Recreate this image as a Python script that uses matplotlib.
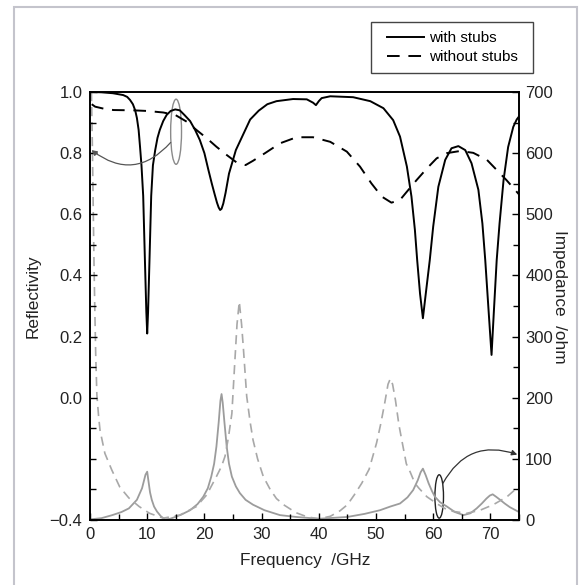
import matplotlib
matplotlib.use('Agg')
import matplotlib.pyplot
import matplotlib.patches
import matplotlib.ticker


freq_with = [0, 2, 4, 5.8, 6.5, 7.0, 7.5, 7.9, 8.2, 8.5, 8.75, 9.0, 9.3, 9.6, 9.85, 10.0,
             10.15, 10.4, 10.7, 11.0, 11.4, 11.8, 12.2, 12.8, 13.4, 14.1, 14.9, 15.7, 16.5,
             17.5, 18.4, 19.2, 20.0, 20.7, 21.3, 21.8, 22.2, 22.5, 22.75, 23.0, 23.3, 23.7,
             24.3, 25.5, 26.9, 28.0, 29.5, 31, 32.6, 35.5, 37.9, 39.0, 39.5, 40.0, 40.5, 42,
             46, 49, 51.3, 53, 54.2, 55.4, 56.2, 56.8, 57.2, 57.7, 58.2, 58.7, 59.4, 60, 60.9,
             62.1, 63.2, 64.4, 65.6, 66.7, 67.9, 68.6, 69.1, 69.7, 70.2, 70.6, 71.1, 71.6,
             72.3, 73.1, 74.0, 74.6, 75]
refl_with = [1.0, 0.999, 0.996, 0.99, 0.984, 0.974, 0.96, 0.94, 0.915, 0.876, 0.82, 0.76,
             0.66, 0.45, 0.28, 0.21, 0.28, 0.45, 0.66, 0.76, 0.81, 0.85, 0.876, 0.905, 0.925,
             0.938, 0.943, 0.94, 0.925, 0.905, 0.875, 0.843, 0.80, 0.745, 0.70, 0.665, 0.638,
             0.622, 0.614, 0.618, 0.635, 0.67, 0.733, 0.81, 0.866, 0.91, 0.939, 0.96, 0.97,
             0.977, 0.976, 0.965, 0.957, 0.97, 0.98, 0.986, 0.983, 0.97, 0.947, 0.908, 0.854,
             0.756, 0.658, 0.549, 0.45, 0.34, 0.26, 0.34, 0.45, 0.56, 0.69, 0.778, 0.816,
             0.823, 0.81, 0.767, 0.68, 0.57, 0.45, 0.28, 0.14, 0.28, 0.45, 0.57, 0.712, 0.82,
             0.886, 0.91, 0.92]

freq_without = [0.3, 0.9, 2.5, 4.1, 7.6, 10, 12.8, 14.9, 16.9, 18.6, 20.4, 22.1, 23.9, 25.6,
                27.2, 28.5, 30.6, 33.2, 36.1, 39, 42, 44.9, 47.2, 49.2, 51, 52.7, 54.2, 55.4,
                57.1, 58.9, 60.6, 62.4, 64.7, 67, 69.4, 71.1, 72.8, 74.3, 75]
refl_without = [0.96, 0.952, 0.945, 0.941, 0.94, 0.938, 0.933, 0.925, 0.903, 0.876, 0.849,
                0.821, 0.794, 0.77, 0.761, 0.775, 0.80, 0.832, 0.852, 0.852, 0.837, 0.805,
                0.756, 0.701, 0.658, 0.638, 0.647, 0.674, 0.712, 0.75, 0.783, 0.8, 0.807,
                0.801, 0.778, 0.745, 0.712, 0.68, 0.665]

freq_z_with = [0, 2, 3.9, 5.5, 6.8, 8.2, 9.1, 9.7, 10.0, 10.2, 10.5, 10.8, 11.2, 11.7, 12.4,
               13.1, 14, 14.9, 16, 17.5, 18.8, 19.8, 20.6, 21.2, 21.7, 22.1, 22.5, 22.8, 23.0,
               23.2, 23.5, 23.9, 24.3, 24.8, 25.5, 26.2, 27.2, 28.5, 30.5, 33.2, 36, 40, 45,
               48, 50.7, 52.5, 54.2, 55.5, 56.5, 57.3, 57.8, 58.2, 58.7, 59.2, 59.8, 60.3,
               61.2, 62.4, 63.8, 65.3, 66.5, 67.6, 68.5, 69.3, 69.9, 70.4, 71.0, 71.7, 72.5,
               73.4, 74.2, 75]
imp_with = [1, 3, 8, 13, 19, 33, 52, 74, 79, 65, 45, 33, 22, 14, 6, 1, 2, 5, 9, 16, 26, 38,
            52, 71, 92, 120, 160, 195, 206, 192, 160, 120, 92, 71, 55, 44, 33, 25, 16, 8, 5,
            2, 5, 10, 16, 22, 27, 37, 49, 65, 78, 84, 73, 60, 47, 38, 29, 22, 13, 8, 11, 19,
            27, 35, 40, 42, 38, 33, 27, 21, 17, 13]

freq_z_without = [0.25, 0.4, 0.55, 0.7, 0.85, 1.0, 1.2, 1.5, 1.75, 2.6, 3.8, 5.2, 6.8, 8.6,
                  10.4, 12.8, 15.7, 18.6, 20.4, 22.1, 23.0, 23.6, 24.2, 24.8, 25.3, 25.7,
                  26.1, 26.5, 26.8, 27.4, 28.0, 28.5, 29.3, 30.3, 31.5, 32.6, 34, 36, 38, 40,
                  42, 43.7, 45, 46.2, 47.5, 48.8, 50.1, 50.8, 51.5, 52.1, 52.5, 52.9, 53.4,
                  54, 54.5, 55.3, 56, 56.8, 57.5, 58.9, 60.6, 62, 63.5, 65.9, 68.2, 70.5,
                  72.9, 74.6, 75]
imp_without = [700, 620, 520, 420, 340, 270, 205, 170, 147, 109, 82, 54, 36, 22, 11, 3, 8, 22,
               41, 71, 88, 104, 135, 174, 256, 320, 357, 320, 283, 202, 160, 131, 100, 71, 50,
               35, 24, 12, 5, 2, 6, 15, 25, 41, 60, 83, 126, 156, 190, 222, 231, 222, 196, 156,
               131, 92, 78, 60, 52, 38, 27, 19, 14, 11, 16, 25, 38, 52, 55]

left_ticks = [-0.4, 0.0, 0.2, 0.4, 0.6, 0.8, 1.0]
left_labels = ['\u22120.4', '0.0', '0.2', '0.4', '0.6', '0.8', '1.0']
legend_labels = ['with stubs', 'without stubs']


matplotlib.pyplot.rcParams['font.family'] = ['Liberation Sans', 'DejaVu Sans']

W, H = 579., 585.
figure = matplotlib.pyplot.figure(figsize=(W/100., H/100.), dpi=100)

ax = figure.add_axes([90./W, 1.-520./H, 429./W, 428./H])
ax2 = ax.twinx()

gray = '#9c9c9c'
ax2.plot(freq_z_with, imp_with, color=gray, lw=1.3)
ax2.plot(freq_z_without, imp_without, color='#a8a8a8', lw=1.2, dashes=(5.5, 3.5))
l1, = ax.plot(freq_with, refl_with, color='black', lw=1.4)
l2, = ax.plot(freq_without, refl_without, color='black', lw=1.4, dashes=(6.5, 4.5))

# keep reflectivity lines on top of the impedance lines
ax.set_zorder(ax2.get_zorder()+1)
ax.patch.set_visible(False)

ax.set_xlim(0, 75)
ax.set_ylim(-0.4, 1.0)
ax2.set_ylim(0, 700)

ax.xaxis.set_major_locator(matplotlib.ticker.MultipleLocator(10))
ax.xaxis.set_minor_locator(matplotlib.ticker.MultipleLocator(5))
ax.set_yticks(left_ticks)
ax.set_yticklabels(left_labels)
ax.yaxis.set_minor_locator(matplotlib.ticker.MultipleLocator(0.1))
ax2.yaxis.set_major_locator(matplotlib.ticker.MultipleLocator(100))
ax2.yaxis.set_minor_locator(matplotlib.ticker.MultipleLocator(50))

for a in (ax, ax2):
    a.tick_params(which='both', direction='in', width=1.0, labelsize=12, labelcolor='#222222')
    a.tick_params(which='major', length=5)
    a.tick_params(which='minor', length=4.5)
    for s in a.spines.values():
        s.set_linewidth(1.2)
ax.tick_params(axis='x', which='both', top=False, pad=5)
ax.tick_params(axis='y', which='both', right=False, pad=5.5)
ax2.tick_params(axis='y', which='both', left=False, pad=4.5)

# annotations: ellipses + curved arrows
e1 = matplotlib.patches.Ellipse((15.05, 0.87), 1.9, 0.213, fill=False, edgecolor='#8a8a8a', lw=1.0)
ax.add_patch(e1)
ax.annotate('', xy=(0.25, 0.81), xytext=(14.1, 0.835),
            arrowprops=dict(arrowstyle='-|>', color='#555555', lw=0.9, mutation_scale=8,
                            shrinkA=0, shrinkB=0, connectionstyle='arc3,rad=-0.46'))

e2 = matplotlib.patches.Ellipse((61.05, 38.5), 1.5, 71, fill=False, edgecolor='#222222', lw=1.0)
ax2.add_patch(e2)
ax2.annotate('', xy=(74.7, 107), xytext=(61.7, 60),
             arrowprops=dict(arrowstyle='-|>', color='#333333', lw=0.9, mutation_scale=8,
                             shrinkA=0, shrinkB=0, connectionstyle='arc3,rad=-0.42'))

figure.text(33.3/W, 1.-296.5/H, 'Reflectivity', rotation=90, ha='center', va='center',
            fontsize=12.4, color='#222222')
figure.text(560./W, 1.-296.7/H, 'Impedance  /ohm', rotation=270, ha='center', va='center',
            fontsize=12.4, color='#222222')
figure.text(305./W, 1.-560./H, 'Frequency  /GHz', ha='center', va='center',
            fontsize=12.4, color='#222222')

# legend drawn without its own frame, box added separately
leg = figure.legend([l1, l2], legend_labels, loc='center left',
                    bbox_to_anchor=(387./W, 1.-47.5/H), fontsize=11, frameon=False,
                    handlelength=2.4, handletextpad=0.35, borderpad=0.0,
                    labelspacing=0.32, borderaxespad=0)
box = matplotlib.patches.Rectangle((371./W, 1.-73./H), 162./W, 51./H,
                                   transform=figure.transFigure, fill=False,
                                   edgecolor='#444444', lw=1.0)
figure.patches.append(box)

border = matplotlib.patches.Rectangle((13.5/W, -0.02), (576.5-13.5)/W, 1.02-6.5/H,
                                      transform=figure.transFigure, fill=False,
                                      edgecolor='#c4c4cc', lw=1.5)
figure.patches.append(border)

figure.savefig('out.png', dpi=100)
